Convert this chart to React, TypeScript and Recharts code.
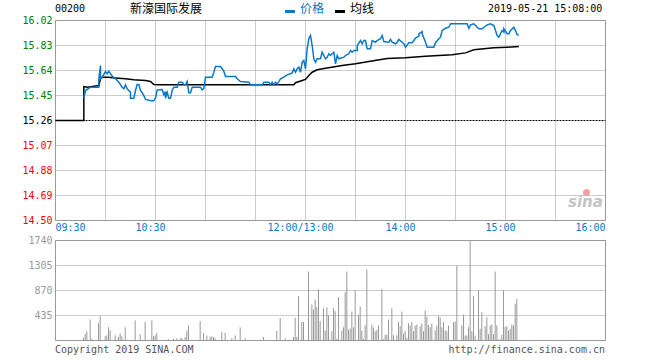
import { ComposedChart, Line, Bar, XAxis, YAxis, CartesianGrid, ReferenceLine, ReferenceArea } from 'recharts';

const MONO = '"DejaVu Sans Mono", "Liberation Mono", monospace';
const CJK = '"Noto Sans CJK SC", sans-serif';

const stockCode = '00200';
const stockName = '新濠国际发展';
const stampText = '2019-05-21 15:08:00';
const prevClose = 15.26;

const priceTicks = [14.5, 14.69, 14.88, 15.07, 15.26, 15.45, 15.64, 15.83, 16.02];
const pctLabels = ['-4.98%', '-3.74%', '-2.49%', '-1.25%', '0.00%', '+1.25%', '+2.49%', '+3.74%', '+4.98%'];
// minutes from 09:30, lunch break folded (12:00 == 13:00 == 150)
const timeTicks = [0, 30, 60, 90, 120, 150, 180, 210, 240, 270, 300, 330];
const timeLabels: Record<number, string> = { 0: '09:30', 60: '10:30', 150: '12:00/13:00', 210: '14:00', 270: '15:00', 330: '16:00' };
const volTicks = [435, 870, 1305, 1740];

// [minute, price]
const pricePoints: [number, number][] = [
  [17, 15.431], [18, 15.488], [21, 15.513], [26, 15.513], [26, 15.577], [27, 15.678], [27, 15.577], [28, 15.589],
  [30, 15.632], [31, 15.615], [32, 15.635], [33, 15.615], [34, 15.597], [36, 15.577], [38, 15.551], [40, 15.513],
  [41, 15.501], [42, 15.531], [43, 15.501], [45, 15.475], [45, 15.429], [47, 15.429], [48, 15.488], [49, 15.534],
  [50, 15.534], [51, 15.488], [52, 15.471], [53, 15.45], [54, 15.42], [58, 15.408], [59, 15.412], [60, 15.429],
  [61, 15.493], [64, 15.496], [65, 15.455], [66, 15.48], [66, 15.429], [67, 15.475], [68, 15.429], [69, 15.429],
  [70, 15.488], [71, 15.513], [73, 15.513], [74, 15.551], [76, 15.551], [77, 15.534], [78, 15.531], [79, 15.556],
  [80, 15.471], [81, 15.471], [82, 15.513], [87, 15.513], [88, 15.493], [89, 15.503], [90, 15.589], [94, 15.589],
  [95, 15.627], [96, 15.67], [99, 15.67], [100, 15.653], [101, 15.635], [102, 15.594], [108, 15.594], [109, 15.577],
  [111, 15.556], [116, 15.551], [117, 15.531], [124, 15.531], [125, 15.551], [128, 15.551], [129, 15.531], [130, 15.551],
  [131, 15.531], [132, 15.551], [133, 15.537], [134, 15.556], [135, 15.577], [137, 15.589], [139, 15.607], [141, 15.615],
  [142, 15.622], [143, 15.653], [144, 15.627], [145, 15.653], [146, 15.665], [147, 15.627], [148, 15.703], [149, 15.716],
  [150, 15.653], [151, 15.805], [152, 15.883], [153, 15.906], [154, 15.83], [155, 15.729], [156, 15.703], [157, 15.729],
  [159, 15.729], [160, 15.779], [161, 15.754], [162, 15.729], [163, 15.741], [164, 15.767], [165, 15.754], [166, 15.767],
  [167, 15.779], [168, 15.691], [169, 15.754], [170, 15.729], [171, 15.733], [173, 15.741], [174, 15.754], [176, 15.767],
  [177, 15.792], [178, 15.779], [179, 15.792], [181, 15.792], [181, 15.83], [183, 15.868], [184, 15.843], [185, 15.868],
  [186, 15.868], [187, 15.805], [189, 15.805], [190, 15.868], [192, 15.855], [193, 15.868], [195, 15.881], [196, 15.906],
  [197, 15.86], [200, 15.855], [201, 15.876], [202, 15.855], [204, 15.843], [205, 15.855], [206, 15.876], [208, 15.855],
  [209, 15.843], [210, 15.817], [212, 15.851], [214, 15.851], [215, 15.868], [216, 15.886], [218, 15.901], [218, 15.919],
  [220, 15.936], [220, 15.919], [222, 15.855], [223, 15.817], [227, 15.817], [228, 15.851], [230, 15.881], [231, 15.893],
  [232, 15.944], [234, 15.961], [236, 15.969], [237, 15.995], [247, 15.995], [248, 15.961], [249, 15.987], [251, 15.995],
  [253, 15.969], [254, 15.957], [256, 15.957], [257, 15.969], [259, 15.987], [261, 15.995], [263, 15.982], [264, 15.944],
  [265, 15.906], [266, 15.893], [267, 15.919], [268, 15.944], [269, 15.931], [269, 15.957], [271, 15.919], [272, 15.919],
  [273, 15.944], [275, 15.969], [276, 15.944], [277, 15.911], [278, 15.911],
];

// [minute, average price]
const avgPoints: [number, number][] = [
  [0, 15.26], [17, 15.26], [17, 15.518], [19, 15.513], [26, 15.526], [27, 15.577], [28, 15.589], [32, 15.589],
  [34, 15.585], [42, 15.577], [47, 15.569], [54, 15.564], [57, 15.556], [59, 15.534], [62, 15.531], [143, 15.531],
  [144, 15.547], [148, 15.564], [150, 15.572], [152, 15.602], [154, 15.627], [157, 15.645], [162, 15.657], [172, 15.678],
  [180, 15.691], [188, 15.708], [199, 15.731], [210, 15.737], [222, 15.749], [238, 15.759], [246, 15.774], [251, 15.797],
  [263, 15.813], [271, 15.817], [278, 15.822],
];

// [minute, volume]
const volumePoints: [number, number][] = [
  [17, 50], [18, 115], [19, 160], [21, 365], [22, 30], [23, 10], [24, 10], [26, 300], [27, 420], [30, 75], [31, 90],
  [32, 230], [33, 180], [34, 10], [36, 90], [37, 10], [38, 60], [39, 125], [40, 75], [41, 15], [42, 230], [43, 15],
  [45, 10], [48, 350], [51, 110], [52, 15], [53, 10], [54, 320], [56, 15], [58, 350], [59, 75], [60, 90], [61, 130],
  [66, 10], [67, 15], [68, 20], [69, 10], [71, 35], [73, 35], [75, 35], [76, 50], [78, 60], [79, 175], [80, 260],
  [82, 10], [87, 340], [88, 10], [89, 130], [91, 85], [93, 70], [94, 70], [95, 60], [96, 40], [97, 10], [100, 150],
  [102, 130], [106, 40], [108, 90], [109, 10], [111, 230], [114, 40], [117, 10], [121, 10], [125, 60], [126, 10],
  [128, 10], [129, 10], [131, 10], [132, 10], [133, 165], [134, 10], [135, 390], [138, 40], [139, 10], [141, 10],
  [143, 60], [144, 395], [145, 60], [146, 770], [148, 320], [149, 320], [150, 10], [152, 1200], [153, 10], [154, 625],
  [155, 540], [156, 715], [157, 580], [158, 890], [159, 340], [161, 560], [162, 175], [163, 580], [164, 435], [166, 160],
  [167, 560], [168, 510], [169, 30], [170, 755], [172, 175], [173, 230], [174, 840], [175, 1200], [176, 185], [177, 205],
  [178, 505], [179, 230], [180, 870], [181, 10], [182, 450], [183, 590], [184, 175], [185, 30], [186, 260], [187, 1235],
  [190, 280], [191, 225], [192, 160], [193, 185], [194, 260], [196, 890], [197, 20], [198, 100], [199, 100], [200, 365],
  [202, 560], [203, 90], [205, 90], [206, 320], [207, 250], [208, 505], [209, 120], [210, 160], [211, 50], [212, 300],
  [213, 260], [214, 320], [215, 160], [216, 260], [217, 280], [219, 250], [220, 300], [221, 160], [222, 520], [223, 415],
  [224, 270], [225, 230], [226, 290], [227, 10], [228, 180], [229, 260], [230, 425], [231, 400], [232, 230], [233, 320],
  [234, 180], [235, 160], [236, 260], [239, 320], [240, 330], [241, 1305], [242, 10], [243, 10], [244, 260], [245, 450],
  [246, 85], [247, 85], [248, 230], [249, 1740], [250, 160], [251, 765], [252, 85], [254, 880], [255, 205], [256, 490],
  [258, 250], [259, 405], [260, 110], [261, 260], [262, 280], [263, 110], [264, 1200], [265, 260], [266, 20], [267, 20],
  [268, 100], [269, 870], [270, 240], [271, 250], [272, 175], [273, 205], [274, 280], [275, 260], [276, 640], [277, 725],
];

const priceData = pricePoints.map(([m, p]) => ({ m, p }));
const avgData = avgPoints.map(([m, a]) => ({ m, a }));
const volData = volumePoints.map(([m, v]) => ({ m, v }));

const GRID = '#999';
const colorFor = (v: number) => (Math.abs(v - prevClose) < 0.001 ? '#000' : v > prevClose ? '#008000' : '#ff0000');

function PriceTick(props: any) {
  const { x, y, payload } = props;
  return (
    <text x={x} y={y} textAnchor="end" dominantBaseline="central" fill={colorFor(payload.value)} fontSize={10} fontFamily={MONO}>
      {payload.value.toFixed(2)}
    </text>
  );
}

function PctTick(props: any) {
  const { x, y, payload, index } = props;
  return (
    <text x={x} y={y} textAnchor="start" dominantBaseline="central" fill={colorFor(payload.value)} fontSize={10} fontFamily={MONO}>
      {pctLabels[index]}
    </text>
  );
}

function TimeTick(props: any) {
  const { x, y, payload } = props;
  const label = timeLabels[payload.value];
  if (!label) return <g />;
  const anchor = payload.value === 0 ? 'start' : payload.value === 330 ? 'end' : 'middle';
  const tx = anchor === 'middle' ? x - 5 : x;
  return (
    <text x={tx} y={y} textAnchor={anchor} dominantBaseline="central" fill="#0a78c8" fontSize={10} fontFamily={MONO}>
      {label}
    </text>
  );
}

function VolTick(props: any) {
  const { x, y, payload } = props;
  return (
    <text x={x} y={y} textAnchor="end" dominantBaseline="central" fill="#999" fontSize={10} fontFamily={MONO}>
      {payload.value}
    </text>
  );
}

const txt = (extra: any) => ({ position: 'absolute' as const, whiteSpace: 'nowrap' as const, lineHeight: '12px', ...extra });

export default function App() {
  return (
    <div style={{ position: 'absolute', left: 0, top: 0, width: 660, height: 360, background: '#fff', overflow: 'hidden' }}>
      {/* header */}
      <div style={txt({ left: 55, top: 3, fontFamily: MONO, fontSize: 10, color: '#000' })}>{stockCode}</div>
      <div style={txt({ left: 130, top: 2, fontFamily: CJK, fontSize: 12, color: '#000' })}>{stockName}</div>
      <div style={{ position: 'absolute', left: 285, top: 10, width: 10, height: 3, background: '#0a78c8' }} />
      <div style={txt({ left: 300, top: 2, fontFamily: CJK, fontSize: 12, color: '#0a78c8' })}>价格</div>
      <div style={{ position: 'absolute', left: 335, top: 10, width: 10, height: 3, background: '#000' }} />
      <div style={txt({ left: 350, top: 2, fontFamily: CJK, fontSize: 12, color: '#000' })}>均线</div>
      <div style={txt({ left: 488, top: 3, fontFamily: MONO, fontSize: 10, color: '#000' })}>{stampText}</div>

      {/* price panel */}
      <div style={{ position: 'absolute', left: 0, top: 0 }}>
        <ComposedChart width={661} height={237} data={priceData} margin={{ top: 20.5, right: 0.5, bottom: 0.5, left: 0.5 }}>
          <CartesianGrid yAxisId="price" horizontal={false} stroke={GRID} strokeDasharray="1 1" />
          <XAxis dataKey="m" type="number" domain={[0, 330]} ticks={timeTicks} height={16} axisLine={false} tickLine={false} tickSize={0} tickMargin={7} tick={<TimeTick />} />
          <YAxis yAxisId="price" domain={[14.5, 16.02]} ticks={priceTicks} width={55} axisLine={false} tickLine={false} tickSize={0} tickMargin={3} tick={<PriceTick />} />
          <YAxis yAxisId="pct" orientation="right" domain={[14.5, 16.02]} ticks={priceTicks} width={55} axisLine={false} tickLine={false} tickSize={0} tickMargin={2} tick={<PctTick />} />
          {priceTicks.filter((t) => t !== prevClose && t !== 14.5 && t !== 16.02).map((t) => (
            <ReferenceLine key={t} yAxisId="price" y={t} stroke={GRID} strokeDasharray="1 1" />
          ))}
          <ReferenceLine yAxisId="price" y={prevClose} stroke="#000" strokeDasharray="2 1" />
          <ReferenceArea yAxisId="price" x1={0} x2={330} y1={14.5} y2={16.02} fill="none" stroke={GRID} />
          <Line yAxisId="price" data={avgData} dataKey="a" type="linear" stroke="#000" strokeWidth={1.5} dot={false} isAnimationActive={false} />
          <Line yAxisId="price" dataKey="p" type="linear" stroke="#0a78c8" strokeWidth={1.5} dot={false} isAnimationActive={false} />
        </ComposedChart>
      </div>

      {/* volume panel */}
      <div style={{ position: 'absolute', left: 0, top: 230 }}>
        <ComposedChart width={661} height={121} data={volData} margin={{ top: 10.5, right: 55.5, bottom: 10.5, left: 0.5 }}>
          <CartesianGrid horizontal={false} stroke={GRID} strokeDasharray="1 1" />
          <XAxis dataKey="m" type="number" domain={[0, 330]} ticks={timeTicks} height={0} axisLine={false} tickLine={false} tick={false} />
          <YAxis domain={[0, 1740]} ticks={volTicks} width={55} axisLine={false} tickLine={false} tickSize={0} tickMargin={3} tick={<VolTick />} />
          {volTicks.filter((t) => t !== 1740).map((t) => (
            <ReferenceLine key={t} y={t} stroke={GRID} strokeDasharray="1 1" />
          ))}
          <ReferenceArea x1={0} x2={330} y1={0} y2={1740} fill="none" stroke={GRID} />
          <Bar dataKey="v" fill="#999" barSize={1} isAnimationActive={false} />
        </ComposedChart>
      </div>

      {/* watermark */}
      <div style={{ position: 'absolute', left: 583, top: 189, width: 7, height: 7, borderRadius: 4, background: '#f4a0a0' }} />
      <div style={txt({ left: 568, top: 195, fontFamily: '"DejaVu Sans", sans-serif', fontSize: 15, fontWeight: 'bold', fontStyle: 'italic', color: '#c4c4c4', lineHeight: '15px' })}>sina</div>

      {/* footer */}
      <div style={txt({ left: 55, top: 344, fontFamily: MONO, fontSize: 10, color: '#555' })}>Copyright 2019 SINA.COM</div>
      <div style={txt({ right: 55, top: 344, fontFamily: MONO, fontSize: 10, color: '#555' })}>http://finance.sina.com.cn</div>
    </div>
  );
}
